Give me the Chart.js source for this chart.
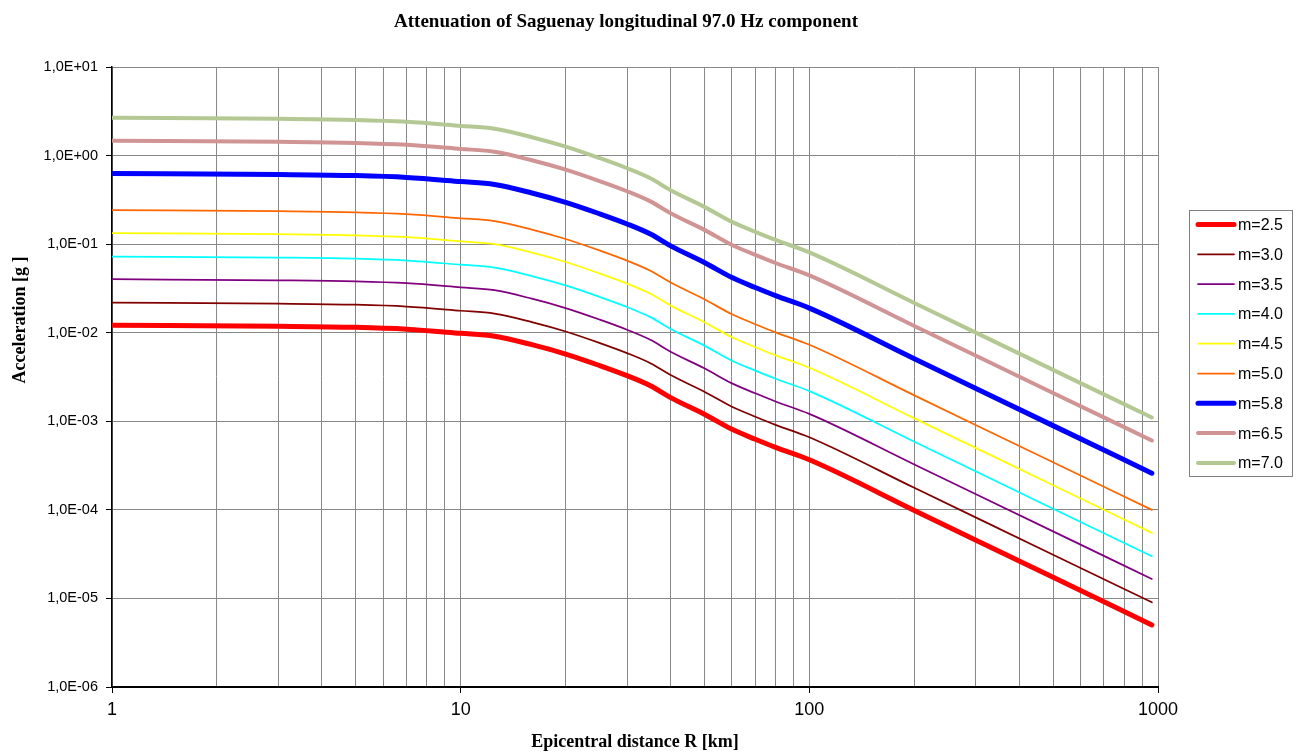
<!DOCTYPE html>
<html>
<head>
<meta charset="utf-8">
<title>Attenuation of Saguenay longitudinal 97.0 Hz component</title>
<script src="https://cdn.jsdelivr.net/npm/chart.js@4.4.0/dist/chart.umd.min.js"></script>
<style>
  html, body { margin: 0; padding: 0; background: #fff; }
</style>
</head>
<body>
<canvas id="attChart" width="1299" height="753"></canvas>
<script>
const chartTitle = 'Attenuation of Saguenay longitudinal 97.0 Hz component';
const yAxisTitle = 'Acceleration [g ]';

// epicentral distance R [km]
const distances = [1, 3, 5, 7, 10, 12.5, 16, 20, 25, 30, 35, 40, 50, 60, 70, 80, 100, 200, 500, 960];

// acceleration [g] per magnitude
const m25 = [0.01216, 0.01183, 0.01151, 0.01096, 0.00984, 0.009141, 0.007328, 0.005741, 0.004266, 0.003273, 0.002518, 0.001849, 0.001199, 0.000811, 0.0006266, 0.000507, 0.0003673, 0.00009863, 0.0000173, 0.000005023];
const m30 = [0.02188, 0.02128, 0.0207, 0.01972, 0.0177, 0.01644, 0.01318, 0.01033, 0.007674, 0.005888, 0.004529, 0.003327, 0.002158, 0.001459, 0.001127, 0.000912, 0.0006607, 0.0001774, 0.00003112, 0.000009036];
const m35 = [0.04018, 0.03908, 0.03802, 0.03622, 0.03251, 0.0302, 0.02421, 0.01897, 0.01409, 0.01081, 0.008318, 0.006109, 0.003963, 0.002679, 0.00207, 0.001675, 0.001213, 0.0003258, 0.00005715, 0.0000166];
const m40 = [0.07244, 0.07047, 0.06855, 0.06531, 0.05861, 0.05445, 0.04365, 0.0342, 0.02541, 0.0195, 0.015, 0.01102, 0.007145, 0.004831, 0.003733, 0.00302, 0.002188, 0.0005875, 0.000103, 0.00002992];
const m45 = [0.133, 0.1294, 0.1259, 0.1199, 0.1076, 0.1, 0.08017, 0.06281, 0.04667, 0.03581, 0.02754, 0.02023, 0.01312, 0.008872, 0.006855, 0.005546, 0.004018, 0.001079, 0.0001892, 0.00005495];
const m50 = [0.2421, 0.2355, 0.2291, 0.2183, 0.1959, 0.182, 0.1459, 0.1143, 0.08492, 0.06516, 0.05012, 0.03681, 0.02388, 0.01614, 0.01247, 0.01009, 0.007311, 0.001963, 0.0003443, 0.0001];
const m58 = [0.6281, 0.6109, 0.5943, 0.5662, 0.5082, 0.4721, 0.3784, 0.2965, 0.2203, 0.169, 0.13, 0.0955, 0.06194, 0.04188, 0.03236, 0.02618, 0.01897, 0.005093, 0.0008933, 0.0002594];
const m65 = [1.469, 1.429, 1.39, 1.324, 1.189, 1.104, 0.8851, 0.6934, 0.5152, 0.3954, 0.3041, 0.2234, 0.1449, 0.09795, 0.07568, 0.06124, 0.04436, 0.01191, 0.002089, 0.0006067];
const m70 = [2.673, 2.6, 2.529, 2.41, 2.163, 2.009, 1.611, 1.262, 0.9376, 0.7194, 0.5533, 0.4064, 0.2636, 0.1782, 0.1377, 0.1114, 0.08072, 0.02168, 0.003802, 0.001104];

const seriesNames = ['m=2.5', 'm=3.0', 'm=3.5', 'm=4.0', 'm=4.5', 'm=5.0', 'm=5.8', 'm=6.5', 'm=7.0'];
const seriesValues = [m25, m30, m35, m40, m45, m50, m58, m65, m70];
const seriesColors = ['#FF0000', '#800000', '#800080', '#00FFFF', '#FFFF00', '#FF6600', '#0000FF', '#D09494', '#B4C894'];
const seriesWidths = [5, 1.75, 1.75, 1.75, 1.75, 1.75, 5, 4, 4];

const yTickValues = [1e-6, 1e-5, 1e-4, 1e-3, 1e-2, 1e-1, 1, 10];
const yTickLabels = ['1,0E-06', '1,0E-05', '1,0E-04', '1,0E-03', '1,0E-02', '1,0E-01', '1,0E+00', '1,0E+01'];
const xTickValues = [1, 10, 100, 1000];
const xTickLabels = ['1', '10', '100', '1000'];
const xGridValues = [1, 2, 3, 4, 5, 6, 7, 8, 9, 10, 20, 30, 40, 50, 60, 70, 80, 90,
  100, 200, 300, 400, 500, 600, 700, 800, 900, 1000];

const datasets = seriesNames.map((name, i) => ({
  label: name,
  data: distances.map((r, j) => ({ x: r, y: seriesValues[i][j] })),
  borderColor: seriesColors[i],
  backgroundColor: seriesColors[i],
  borderWidth: seriesWidths[i],
  fill: false,
}));

const isMajorX = v => xTickValues.indexOf(v) >= 0;

// title, y title and boxed legend drawn by hand, Excel style
const titleAndLegend = {
  id: 'titleAndLegend',
  afterDraw(chart) {
    const ctx = chart.ctx;
    ctx.save();
    ctx.fillStyle = '#000';
    ctx.font = 'bold 19px "Liberation Serif"';
    ctx.textAlign = 'center';
    ctx.textBaseline = 'middle';
    ctx.fillText(chartTitle, 626, 22);

    ctx.save();
    ctx.translate(20, 320);
    ctx.rotate(-Math.PI / 2);
    ctx.font = 'bold 18px "Liberation Serif"';
    ctx.fillText(yAxisTitle, 0, 0);
    ctx.restore();

    ctx.strokeStyle = '#808080';
    ctx.lineWidth = 1;
    ctx.strokeRect(1189.5, 210.5, 103, 266);
    chart.data.datasets.forEach((ds, i) => {
      const y = 224.5 + i * 29.8;
      ctx.strokeStyle = ds.borderColor;
      ctx.lineWidth = ds.borderWidth;
      ctx.lineCap = 'round';
      ctx.beginPath();
      ctx.moveTo(1198, y);
      ctx.lineTo(1234, y);
      ctx.stroke();
      ctx.fillStyle = '#000';
      ctx.font = '16px "Liberation Sans"';
      ctx.textAlign = 'left';
      ctx.fillText(ds.label, 1238, y + 1);
    });
    ctx.restore();
  }
};

new Chart(document.getElementById('attChart'), {
  type: 'line',
  data: { datasets },
  plugins: [titleAndLegend],
  options: {
    responsive: false,
    animation: false,
    layout: { padding: { left: 0, right: 141, top: 67, bottom: 0 } },
    plugins: {
      legend: { display: false },
      title: { display: false },
      tooltip: { enabled: false },
    },
    elements: {
      point: { radius: 0 },
      line: { cubicInterpolationMode: 'monotone', borderCapStyle: 'round', borderJoinStyle: 'round' },
    },
    scales: {
      x: {
        type: 'logarithmic',
        min: 1,
        max: 1000,
        afterBuildTicks: s => { s.ticks = xGridValues.map(v => ({ value: v })); },
        afterFit: s => { s.height = 66; },
        ticks: {
          autoSkip: false,
          maxRotation: 0,
          padding: 6,
          color: '#000',
          font: { family: 'Liberation Sans', size: 18 },
          callback: v => (isMajorX(v) ? xTickLabels[xTickValues.indexOf(v)] : ''),
        },
        grid: {
          color: '#888888',
          lineWidth: 1,
          tickLength: 6,
          tickColor: c => (c.tick && isMajorX(c.tick.value) ? '#000' : 'rgba(0,0,0,0)'),
        },
        border: { color: '#000', width: 2 },
        title: {
          display: true,
          text: 'Epicentral distance R [km]',
          color: '#000',
          font: { family: 'Liberation Serif', size: 18, weight: 'bold' },
          padding: { top: 0, bottom: 0 },
        },
      },
      y: {
        type: 'logarithmic',
        min: 1e-6,
        max: 10,
        afterBuildTicks: s => { s.ticks = yTickValues.map(v => ({ value: v })); },
        afterFit: s => { s.width = 112; },
        ticks: {
          padding: 8,
          color: '#000',
          font: { family: 'Liberation Sans', size: 14.5 },
          callback: (v, i) => yTickLabels[i],
        },
        grid: { color: '#888888', lineWidth: 1, tickLength: 6, tickColor: '#000' },
        border: { color: '#000', width: 1.5 },
        title: { display: false },
      },
    },
  },
});
</script>
</body>
</html>
